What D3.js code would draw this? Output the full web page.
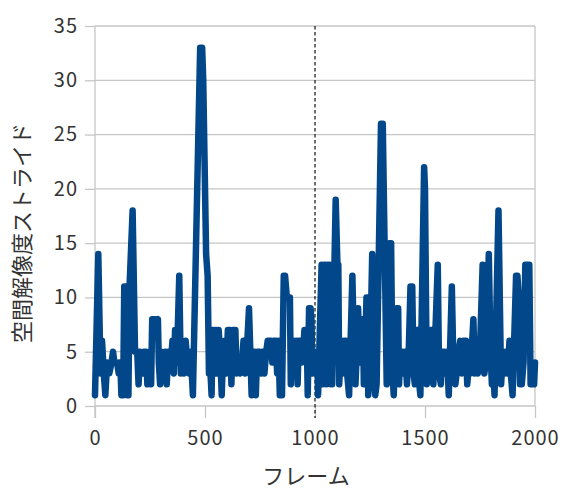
<!DOCTYPE html>
<html><head><meta charset="utf-8">
<script src="https://cdn.jsdelivr.net/npm/d3@7"></script>
<style>body{margin:0;background:#fff}svg{display:block}</style>
</head><body>
<script>
const frames = [0,15,25,32,40,47,55,65,75,82,88,100,108,115,120,128,133,140,146,152,157,171,182,192,198,205,215,222,232,238,248,255,260,272,276,286,290,296,302,312,320,326,333,345,352,358,364,372,383,390,398,405,412,420,428,435,445,478,487,492,505,512,518,
525,530,534,541,545,550,556,562,569,576,582,590,596,604,614,620,626,638,644,652,660,668,675,682,690,700,706,712,718,726,731,737,748,755,762,770,778,785,800,806,812,822,828,834,840,850,858,864,872,886,890,896,905,912,917,921,926,934,940,946,952,962,967,973,980,984,988,994,1000,1005,1010,1014,
1030,1036,1042,1048,1052,1058,1066,1072,1078,1094,1102,1106,1110,1118,1126,1132,1140,1146,1155,1170,1178,1184,1190,1196,1202,1208,1218,1222,1228,1234,1238,1242,1250,1260,1268,1274,1280,1300,1308,1326,1332,1338,1346,1352,1358,1364,1372,1378,1382,1388,1396,1402,1410,1418,1426,1434,1442,1448,1454,1460,1468,1474,1479,1496,1500,1508,
1516,1524,1532,1538,1544,1558,1564,1572,1578,1586,1592,1600,1608,1622,1630,1638,1644,1652,1660,1668,1674,1686,1692,1700,1706,1720,1726,1734,1740,1748,1762,1770,1776,1790,1798,1804,1810,1816,1834,1846,1854,1862,1868,1876,1884,1890,1898,1914,1920,1926,1932,1940,1948,1956,1966,1974,1980,1986,1992,1996,2000];
const strides = [1,14,3,6,3,1,4,3,4,5,4,4,3,4,1,1,11,11,1,1,11,18,5,5,2,5,3,5,5,2,5,2,8,8,7,8,4,2,5,3,5,2,5,4,6,3,7,4,12,3,5,3,6,4,3,5,1,33,33,30,14,12,3,
3,1,7,7,3,7,3,7,5,1,5,6,3,7,7,2,7,7,3,4,3,4,6,3,5,9,5,1,5,5,1,5,5,3,5,3,5,6,6,4,6,6,3,6,1,1,12,12,10,10,2,6,6,4,6,2,6,6,4,5,7,7,1,9,9,8,3,5,5,3,5,1,
13,2,13,13,2,13,13,2,2,19,13,13,2,6,3,6,6,3,1,12,4,2,5,9,4,8,8,2,5,10,10,1,4,14,3,1,2,26,26,2,5,15,15,3,1,5,9,9,2,5,5,3,5,2,5,11,11,3,2,7,7,2,1,22,20,2,
4,7,7,2,5,13,3,2,5,5,3,5,1,11,3,2,3,5,6,3,6,6,2,4,3,8,3,4,3,4,13,3,4,14,5,2,4,1,18,2,5,3,5,3,6,3,1,12,12,10,2,2,4,13,13,13,2,2,4,2,4];
const xTicks = [0,500,1000,1500,2000];
const yTicks = [0,5,10,15,20,25,30,35];
const xTitle = "フレーム";
const yTitle = "空間解像度ストライド";
const markerFrame = [1000];

const W = 564, H = 491;
const L = 95, R = 535, T = 26, B = 406;
const svg = d3.select("body").append("svg").attr("width", W).attr("height", H);
const x = d3.scaleLinear().domain([0, 2000]).range([L, R]);
const y = d3.scaleLinear().domain([0, 35]).range([B, T]);
const grid = "#c6c6c6", txt = "#333333";
const font = "'Noto Sans CJK JP', 'Noto Sans', sans-serif";

// horizontal gridlines
svg.append("g").selectAll("line").data(yTicks.filter(d => d > 0)).join("line")
  .attr("x1", L).attr("x2", R).attr("y1", d => y(d)).attr("y2", d => y(d))
  .attr("stroke", grid).attr("stroke-width", 1.3);
// right border
svg.append("line").attr("x1", R).attr("x2", R).attr("y1", T).attr("y2", B)
  .attr("stroke", grid).attr("stroke-width", 1.3);

// axes
const xAxis = svg.append("g").attr("transform", `translate(0,${B})`)
  .call(d3.axisBottom(x).tickValues(xTicks).tickSize(12).tickPadding(8).tickFormat(d3.format("d")));
const yAxis = svg.append("g").attr("transform", `translate(${L},0)`)
  .call(d3.axisLeft(y).tickValues(yTicks).tickSize(10).tickPadding(7).tickFormat(d3.format("d")));
[xAxis, yAxis].forEach(g => {
  g.select(".domain").remove();
  g.selectAll(".tick line").attr("stroke", grid).attr("stroke-width", 1.3);
  g.selectAll(".tick text").attr("fill", txt).attr("font-size", 20).attr("font-family", font)
    .attr("letter-spacing", "1px");
});
xAxis.selectAll(".tick text").attr("dy", "0.95em");
svg.append("line").attr("x1", L).attr("x2", R).attr("y1", B).attr("y2", B).attr("stroke", grid).attr("stroke-width", 1.3);
svg.append("line").attr("x1", L).attr("x2", L).attr("y1", T).attr("y2", B + 12).attr("stroke", grid).attr("stroke-width", 1.3);

// dashed marker
svg.selectAll("line.marker").data(markerFrame).join("line").attr("class", "marker")
  .attr("x1", d => x(d)).attr("x2", d => x(d)).attr("y1", T).attr("y2", B + 12)
  .attr("stroke", "#111").attr("stroke-width", 1.2).attr("stroke-dasharray", "3.5,2.5");

// data line
const data = frames.map((f, i) => ({f, v: strides[i]}));
svg.append("path").datum(data)
  .attr("d", d3.line().x(d => x(d.f)).y(d => y(d.v)))
  .attr("fill", "none").attr("stroke", "#02478a").attr("stroke-width", 6.5)
  .attr("stroke-linejoin", "round").attr("stroke-linecap", "round");

// titles
svg.append("text").attr("x", (L + R) / 2 - 9).attr("y", 484).attr("text-anchor", "middle")
  .attr("font-family", font).attr("font-size", 22).attr("fill", txt).text(xTitle);
svg.append("text").attr("transform", `translate(30,233) rotate(-90)`).attr("text-anchor", "middle")
  .attr("font-family", font).attr("font-size", 22).attr("fill", txt).text(yTitle);
</script>
</body></html>
